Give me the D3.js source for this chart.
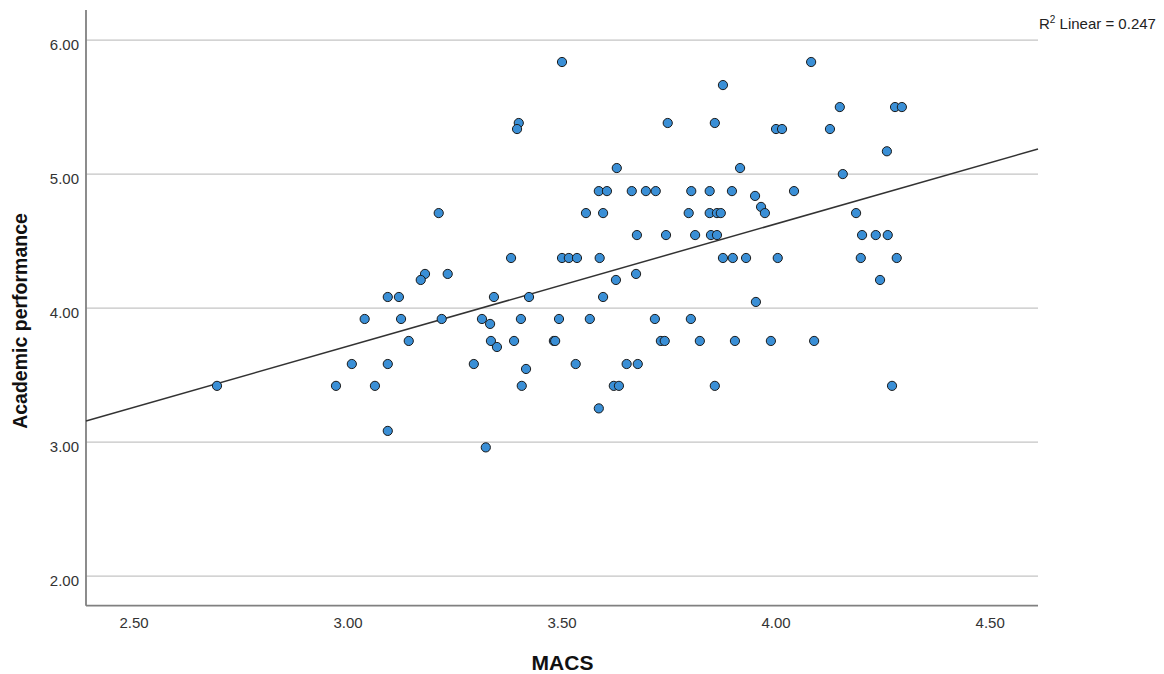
<!DOCTYPE html>
<html>
<head>
<meta charset="utf-8">
<script src="https://cdn.jsdelivr.net/npm/d3@7"></script>
<style>
  html, body { margin: 0; padding: 0; background: #fff; }
  svg { display: block; font-family: "Liberation Sans", Arial, sans-serif; }
</style>
</head>
<body>
<svg id="chart" width="1164" height="674"></svg>
<script>
// ---- data ----
const macs = [
  3.501, 4.083,
  3.877,
  4.150, 4.279, 4.295,
  3.400, 3.748, 3.858,
  3.396, 4.001, 4.015, 4.127,
  4.260,
  3.629, 3.917,
  4.157,
  3.587, 3.606, 3.664, 3.697, 3.720, 3.803, 3.846, 3.898, 4.043,
  3.952,
  3.966,
  3.213, 3.557, 3.597, 3.797, 3.846, 3.863, 3.872, 3.975, 4.188,
  3.676, 3.744, 3.812, 3.849, 3.863, 4.202, 4.234, 4.262,
  3.382, 3.501, 3.517, 3.536, 3.589, 3.877, 3.900, 3.931, 4.005, 4.199, 4.283,
  3.181, 3.234, 3.674,
  3.171, 3.627, 4.244,
  3.094, 3.120, 3.342, 3.424, 3.597,
  3.954,
  3.040, 3.125, 3.220, 3.314, 3.405, 3.494, 3.566, 3.718, 3.802,
  3.333,
  3.143, 3.335, 3.389, 3.482, 3.485, 3.732, 3.741, 3.823, 3.905, 3.989, 4.090,
  3.349,
  3.010, 3.094, 3.295, 3.533, 3.652, 3.678,
  3.417,
  2.695, 2.973, 3.064, 3.407, 3.622, 3.634, 3.858, 4.272,
  3.587,
  3.094,
  3.323
];
const performance = [
  5.836, 5.836,
  5.664,
  5.50, 5.50, 5.50,
  5.381, 5.381, 5.381,
  5.336, 5.336, 5.336, 5.336,
  5.17,
  5.045, 5.045,
  5.00,
  4.873, 4.873, 4.873, 4.873, 4.873, 4.873, 4.873, 4.873, 4.873,
  4.837,
  4.755,
  4.709, 4.709, 4.709, 4.709, 4.709, 4.709, 4.709, 4.709, 4.709,
  4.545, 4.545, 4.545, 4.545, 4.545, 4.545, 4.545, 4.545,
  4.374, 4.374, 4.374, 4.374, 4.374, 4.374, 4.374, 4.374, 4.374, 4.374, 4.374,
  4.255, 4.255, 4.255,
  4.21, 4.21, 4.21,
  4.083, 4.083, 4.083, 4.083, 4.083,
  4.046,
  3.919, 3.919, 3.919, 3.919, 3.919, 3.919, 3.919, 3.919, 3.919,
  3.882,
  3.755, 3.755, 3.755, 3.755, 3.755, 3.755, 3.755, 3.755, 3.755, 3.755, 3.755,
  3.71,
  3.583, 3.583, 3.583, 3.583, 3.583, 3.583,
  3.546,
  3.42, 3.42, 3.42, 3.42, 3.42, 3.42, 3.42, 3.42,
  3.252,
  3.084,
  2.961
];
const xTicks = [2.5, 3.0, 3.5, 4.0, 4.5];
const yTicks = [2, 3, 4, 5, 6];
const fitIntercept = [0.9785];
const fitSlope = [0.9123];
const xTitle = "MACS";
const yTitle = "Academic performance";
const r2Text = ["R", "2", " Linear = 0.247"];

// ---- layout ----
const svg = d3.select("#chart");
const pLeft = 86, pRight = 1038, pTop = 10, pBottom = 605.7;

const x = d3.scaleLinear().domain([2.389, 4.613]).range([pLeft, pRight]);
const y = d3.scaleLinear().domain([1.78, 6.224]).range([pBottom, pTop]);

// gridlines
svg.append("g")
  .selectAll("line")
  .data(yTicks)
  .join("line")
  .attr("x1", pLeft).attr("x2", pRight)
  .attr("y1", d => y(d)).attr("y2", d => y(d))
  .attr("stroke", "#c4c4c4")
  .attr("stroke-width", 1.3);

// y axis
const yAxis = svg.append("g")
  .attr("transform", `translate(${pLeft},0)`)
  .call(d3.axisLeft(y).tickValues(yTicks).tickFormat(d3.format(".2f")).tickSize(0).tickPadding(7));
yAxis.select(".domain").remove();
yAxis.selectAll("text")
  .attr("font-size", 15)
  .attr("fill", "#333")
  .attr("dy", "0.6em")
  .attr("font-family", "'Liberation Sans', Arial, sans-serif");

// x axis
const xAxis = svg.append("g")
  .attr("transform", `translate(0,${pBottom})`)
  .call(d3.axisBottom(x).tickValues(xTicks).tickFormat(d3.format(".2f")).tickSize(0).tickPadding(12));
xAxis.select(".domain").remove();
xAxis.selectAll("text")
  .attr("font-size", 15)
  .attr("fill", "#333")
  .attr("font-family", "'Liberation Sans', Arial, sans-serif");

// axis lines
svg.append("line")
  .attr("x1", pLeft).attr("x2", pLeft).attr("y1", pTop).attr("y2", pBottom)
  .attr("stroke", "#808080").attr("stroke-width", 1.8);
svg.append("line")
  .attr("x1", pLeft).attr("x2", pRight).attr("y1", pBottom).attr("y2", pBottom)
  .attr("stroke", "#808080").attr("stroke-width", 1.8);

// regression line
const xd = x.domain();
const fitPts = xd.map(v => [v, fitIntercept[0] + fitSlope[0] * v]);
svg.append("path")
  .attr("d", d3.line().x(d => x(d[0])).y(d => y(d[1]))(fitPts))
  .attr("fill", "none")
  .attr("stroke", "#333")
  .attr("stroke-width", 1.5);

// points
const pts = macs.map((m, i) => ({ x: m, y: performance[i] }));
svg.append("g")
  .selectAll("circle")
  .data(pts)
  .join("circle")
  .attr("cx", d => x(d.x))
  .attr("cy", d => y(d.y))
  .attr("r", 4.6)
  .attr("fill", "#3a8fd6")
  .attr("stroke", "#1a1a1a")
  .attr("stroke-width", 1);

// titles
svg.append("text")
  .attr("x", 562.5)
  .attr("y", 670)
  .attr("text-anchor", "middle")
  .attr("font-size", 21)
  .attr("font-weight", "bold")
  .attr("fill", "#111")
  .text(xTitle);

svg.append("text")
  .attr("transform", "translate(26.5,321) rotate(-90)")
  .attr("text-anchor", "middle")
  .attr("font-size", 19.5)
  .attr("font-weight", "bold")
  .attr("fill", "#111")
  .text(yTitle);

// R2 annotation
const r2 = svg.append("text")
  .attr("x", 1039)
  .attr("y", 29)
  .attr("font-size", 15)
  .attr("fill", "#222");
r2.append("tspan").text(r2Text[0]);
r2.append("tspan").attr("font-size", 10).attr("dy", -6).text(r2Text[1]);
r2.append("tspan").attr("dy", 6).text(r2Text[2]);
</script>
</body>
</html>
